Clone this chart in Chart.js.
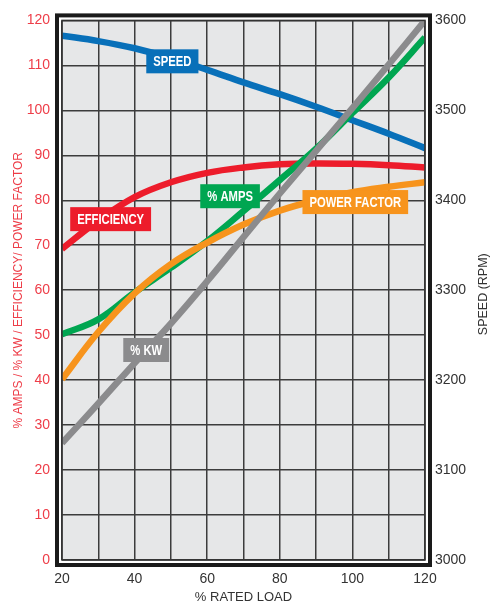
<!DOCTYPE html>
<html>
<head>
<meta charset="utf-8">
<script src="https://cdn.jsdelivr.net/npm/chart.js@4"></script>
<style>
  html, body { margin: 0; padding: 0; background: #fff; }
  #wrap { width: 490px; height: 605px; }
</style>
</head>
<body>
<div id="wrap"><canvas id="motorChart" width="490" height="605"></canvas></div>
<script>
const loads = [20, 30, 40, 50, 60, 70, 80, 90, 100, 110, 120];
const ampsPct = [50.2, 53.5, 59.5, 65, 70.9, 77.6, 84.5, 91.5, 99.4, 107.3, 116.2];
const kwPct = [26, 34.8, 43.8, 52.6, 62, 71.8, 81.5, 91, 100.5, 110.2, 120];
const efficiency = [69.2, 75.5, 80.7, 84, 86.1, 87.3, 88, 88.2, 88.1, 87.8, 87.3];
const powerFactor = [40.2, 50.7, 59.3, 65.8, 70.6, 74.6, 77.7, 80, 81.8, 83, 84];
const speedRpm = [3583, 3577, 3569, 3558, 3545, 3531, 3518, 3504, 3489, 3474, 3458];

const FONT = "'Liberation Sans', Arial, sans-serif";

// curve labels: [text, colour, x (load), y (left axis value)]
const curveLabels = [
    ["SPEED", "#0870b9", 50.4, 110.9],
    ["EFFICIENCY", "#ed1c2b", 33.4, 75.8],
    ["% AMPS", "#00a651", 66.3, 80.9],
    ["POWER FACTOR", "#f7941d", 100.8, 79.6],
    ["% KW", "#8b8b8d", 43.2, 46.7]
];

function pts(vals) {
    return loads.map((x, i) => ({ x: x, y: vals[i] }));
}

const framePlugin = {
    id: "frame",
    beforeDraw(chart) {
        const { ctx, chartArea: a } = chart;
        ctx.save();
        ctx.fillStyle = "#e6e7e8";
        ctx.fillRect(a.left, a.top, a.right - a.left, a.bottom - a.top);
        ctx.restore();
    },
    afterDatasetsDraw(chart) {
        const { ctx, chartArea: a, scales } = chart;
        ctx.save();
        // inner border
        ctx.strokeStyle = "#333";
        ctx.lineWidth = 1.5;
        ctx.strokeRect(a.left, a.top, a.right - a.left, a.bottom - a.top);
        // outer thick frame
        ctx.strokeStyle = "#1a1a1a";
        ctx.lineWidth = 4;
        ctx.strokeRect(a.left - 5, a.top - 5, a.right - a.left + 10, a.bottom - a.top + 10);

        // curve labels (condensed bold text in coloured boxes)
        ctx.font = "bold 15px " + FONT;
        ctx.textAlign = "center";
        ctx.textBaseline = "middle";
        const squeeze = 0.75;
        curveLabels.forEach(([text, col, lx, ly]) => {
            const cx = scales.x.getPixelForValue(lx);
            const cy = scales.y.getPixelForValue(ly);
            const w = ctx.measureText(text).width * squeeze + 14;
            const h = 24;
            ctx.fillStyle = col;
            ctx.fillRect(cx - w / 2, cy - h / 2, w, h);
            ctx.save();
            ctx.translate(cx, cy + 1);
            ctx.scale(squeeze, 1);
            ctx.fillStyle = "#fff";
            ctx.fillText(text, 0, 0);
            ctx.restore();
        });

        // right axis title, reading bottom to top
        ctx.font = "12.5px " + FONT;
        ctx.fillStyle = "#333";
        ctx.translate(484, (a.top + a.bottom) / 2 + 4);
        ctx.rotate(-Math.PI / 2);
        ctx.fillText("SPEED (RPM)", 0, 0);
        ctx.restore();
    }
};

const lineStyle = { borderWidth: 6.5, tension: 0.4, yAxisID: "y" };

new Chart(document.getElementById("motorChart"), {
    type: "line",
    data: {
        datasets: [
            { ...lineStyle, label: "% KW", data: pts(kwPct), borderColor: "#8b8b8d", order: 1 },
            { ...lineStyle, label: "Power Factor", data: pts(powerFactor), borderColor: "#f7941d", order: 2 },
            { ...lineStyle, label: "% Amps", data: pts(ampsPct), borderColor: "#00a651", order: 3 },
            { ...lineStyle, label: "Efficiency", data: pts(efficiency), borderColor: "#ed1c2b", order: 4 },
            { ...lineStyle, label: "Speed", data: pts(speedRpm), borderColor: "#0870b9", yAxisID: "y2", order: 5 }
        ]
    },
    options: {
        responsive: false,
        animation: false,
        events: [],
        layout: { padding: { top: 16, left: 0, right: 0, bottom: 0 } },
        elements: {
            point: { radius: 0 },
            line: { fill: false, borderCapStyle: "butt" }
        },
        plugins: { legend: { display: false }, tooltip: { enabled: false } },
        scales: {
            x: {
                type: "linear",
                min: 20, max: 120,
                afterFit(s) { s.height = 45; },
                border: { display: false },
                grid: { color: "#3c3c3c", lineWidth: 1.5, drawTicks: false },
                ticks: {
                    stepSize: 10,
                    padding: 11,
                    color: "#333",
                    font: { family: FONT, size: 14 },
                    callback: v => (v % 20 === 0 ? String(v) : "")
                },
                title: {
                    display: true,
                    text: "% RATED LOAD",
                    color: "#333",
                    font: { family: FONT, size: 13 },
                    padding: { top: 0, bottom: 0 }
                }
            },
            y: {
                position: "left",
                min: 0, max: 120,
                afterFit(s) { s.width = 62; },
                border: { display: false },
                grid: { color: "#3c3c3c", lineWidth: 1.5, drawTicks: false },
                ticks: {
                    stepSize: 10,
                    padding: 12,
                    color: "#ee3d48",
                    font: { family: FONT, size: 14 }
                },
                title: {
                    display: true,
                    text: "% AMPS / % KW / EFFICIENCY/ POWER FACTOR",
                    color: "#ee3d48",
                    font: { family: FONT, size: 12 },
                    padding: { top: 11, bottom: 0 }
                }
            },
            y2: {
                position: "right",
                min: 3000, max: 3600,
                afterFit(s) { s.width = 65; },
                border: { display: false },
                grid: { display: false, drawTicks: false },
                ticks: {
                    stepSize: 100,
                    padding: 10,
                    color: "#333",
                    font: { family: FONT, size: 14 },
                    callback: v => String(v)
                }
            }
        }
    },
    plugins: [framePlugin]
});
</script>
</body>
</html>
